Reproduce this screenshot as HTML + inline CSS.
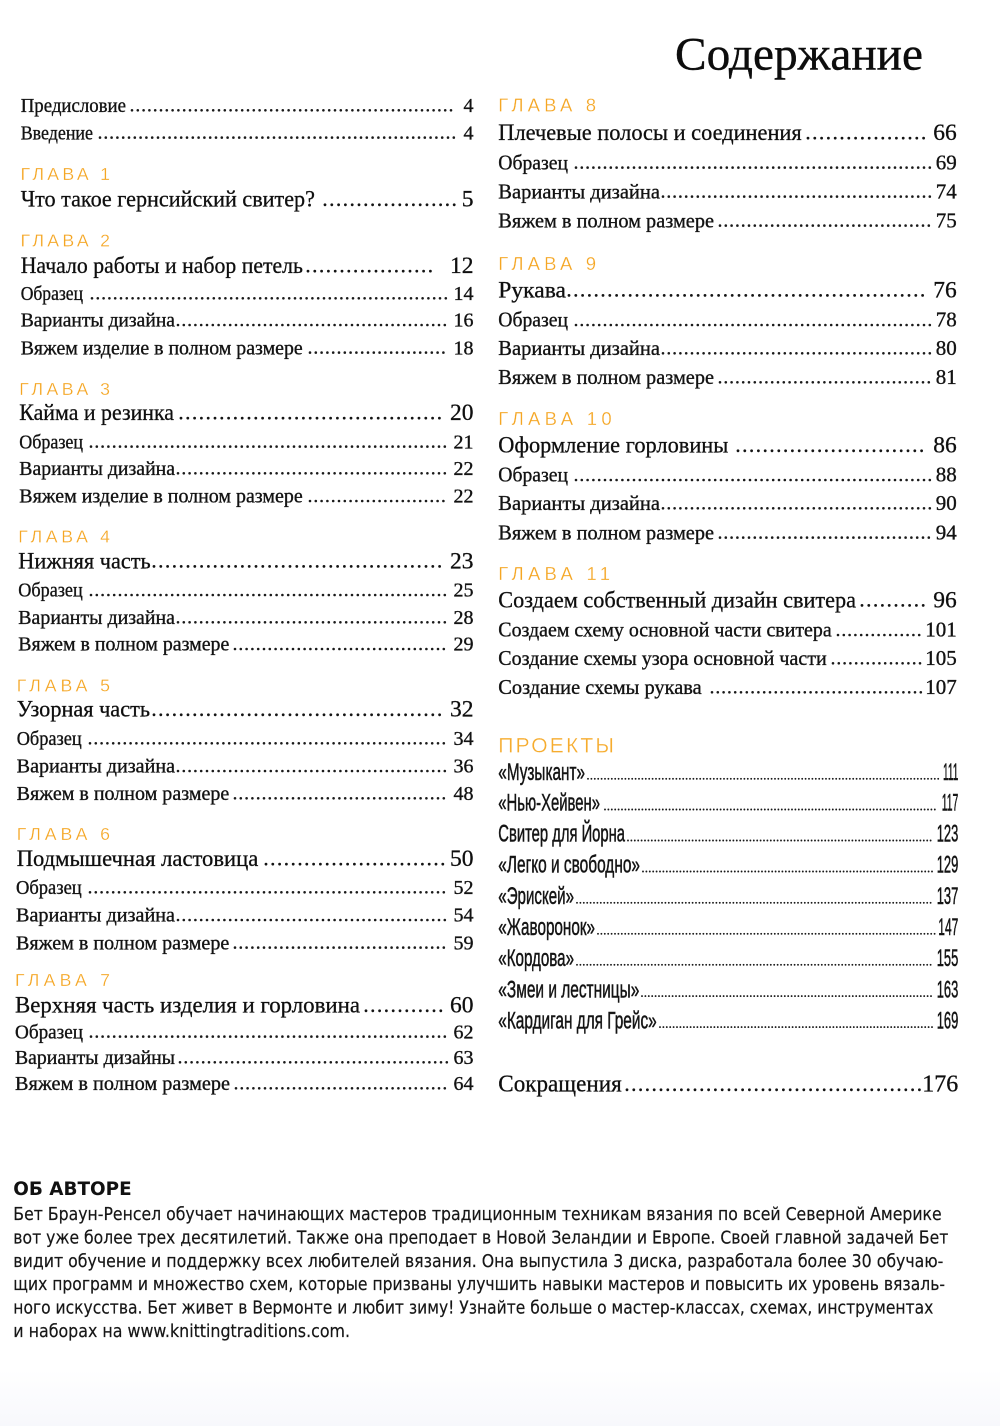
<!DOCTYPE html>
<html>
<head>
<meta charset="utf-8">
<style>
html,body{margin:0;padding:0;background:#fff;}
svg{display:block;}
.s{font-family:"Liberation Serif",serif;font-size:20px;fill:#131313;stroke:#131313;stroke-width:0.35;}
.sr{font-family:"Liberation Serif",serif;font-size:21px;fill:#131313;stroke:#131313;stroke-width:0.35;}
.b{font-family:"Liberation Serif",serif;font-size:23.5px;fill:#0f0f0f;stroke:#0f0f0f;stroke-width:0.3;}
.n{text-anchor:end;}
.g{font-family:"Liberation Sans",sans-serif;font-size:17.7px;fill:#f5a623;stroke:#fff;stroke-width:0.25;}
.gr{font-family:"Liberation Sans",sans-serif;font-size:18.5px;fill:#f5a623;stroke:#fff;stroke-width:0.25;}
.p{font-family:"Liberation Sans",sans-serif;font-size:24px;fill:#141414;stroke:#141414;stroke-width:0.5;}
.t{font-family:"DejaVu Sans","Liberation Sans",sans-serif;font-size:18px;fill:#161616;stroke:#161616;stroke-width:0.2;}
.h{font-family:"DejaVu Sans","Liberation Sans",sans-serif;font-size:18.5px;font-weight:bold;fill:#111;}
.ds{stroke:#1a1a1a;stroke-width:2.6;stroke-linecap:round;stroke-dasharray:0 5.8;}
.db{stroke:#141414;stroke-width:2.8;stroke-linecap:round;stroke-dasharray:0 6.8;}
.dp{stroke:#1a1a1a;stroke-width:1.9;stroke-linecap:round;stroke-dasharray:0 3.4;}
</style>
</head>
<body>
<svg width="1000" height="1426" viewBox="0 0 1000 1426" xmlns="http://www.w3.org/2000/svg">
<defs>
<linearGradient id="bg" x1="0" y1="0" x2="0" y2="1">
<stop offset="0" stop-color="#ffffff"/>
<stop offset="1" stop-color="#f7f8fc"/>
</linearGradient>
</defs>
<rect x="0" y="0" width="1000" height="1426" fill="#fff"/>
<rect x="0" y="1370" width="1000" height="56" fill="url(#bg)"/>

<!-- Title -->
<text x="675" y="69.3" textLength="248" lengthAdjust="spacingAndGlyphs" style="font-family:'Liberation Serif',serif;font-size:47px;fill:#0d0d0d;stroke:#0d0d0d;stroke-width:0.4;">Содержание</text>

<!-- LEFT COLUMN -->
<text class="s" x="20.7" y="112" textLength="105.3" lengthAdjust="spacingAndGlyphs">Предисловие</text>
<line class="ds" x1="132" y1="110.3" x2="456" y2="110.3"/>
<text class="s n" x="473.5" y="112">4</text>

<text class="s" x="20.7" y="139.3" textLength="72.3" lengthAdjust="spacingAndGlyphs">Введение</text>
<line class="ds" x1="100" y1="137.6" x2="456" y2="137.6"/>
<text class="s n" x="473.5" y="139.3">4</text>

<text class="g" x="20.5" y="180" textLength="89.5" lengthAdjust="spacing">ГЛАВА 1</text>
<text class="b" x="20.7" y="206.7" textLength="294.3" lengthAdjust="spacingAndGlyphs">Что такое гернсийский свитер?</text>
<line class="db" x1="325" y1="204.8" x2="455" y2="204.8"/>
<text class="b n" x="473.5" y="206.7">5</text>

<text class="g" x="20.5" y="246.7" textLength="89.5" lengthAdjust="spacing">ГЛАВА 2</text>
<text class="b" x="20.7" y="273" textLength="282.3" lengthAdjust="spacingAndGlyphs">Начало работы и набор петель</text>
<line class="db" x1="308" y1="271.1" x2="437" y2="271.1"/>
<text class="b n" x="473.5" y="273">12</text>
<text class="s" x="20.7" y="300" textLength="62.3" lengthAdjust="spacingAndGlyphs">Образец</text>
<line class="ds" x1="92" y1="298.3" x2="449" y2="298.3"/>
<text class="s n" x="473.5" y="300">14</text>
<text class="s" x="20.7" y="326.7" textLength="154.3" lengthAdjust="spacingAndGlyphs">Варианты дизайна</text>
<line class="ds" x1="178" y1="325" x2="449" y2="325"/>
<text class="s n" x="473.5" y="326.7">16</text>
<text class="s" x="20.7" y="354.3" textLength="282" lengthAdjust="spacingAndGlyphs">Вяжем изделие в полном размере</text>
<line class="ds" x1="310" y1="352.6" x2="449" y2="352.6"/>
<text class="s n" x="473.5" y="354.3">18</text>

<text class="g" x="19.3" y="395" textLength="90.7" lengthAdjust="spacing">ГЛАВА 3</text>
<text class="b" x="19.3" y="420" textLength="154.7" lengthAdjust="spacingAndGlyphs">Кайма и резинка</text>
<line class="db" x1="181" y1="418.1" x2="444" y2="418.1"/>
<text class="b n" x="473.5" y="420">20</text>
<text class="s" x="19.3" y="448.3" textLength="63.7" lengthAdjust="spacingAndGlyphs">Образец</text>
<line class="ds" x1="91" y1="446.6" x2="449" y2="446.6"/>
<text class="s n" x="473.5" y="448.3">21</text>
<text class="s" x="19.3" y="475" textLength="155.7" lengthAdjust="spacingAndGlyphs">Варианты дизайна</text>
<line class="ds" x1="178" y1="473.3" x2="449" y2="473.3"/>
<text class="s n" x="473.5" y="475">22</text>
<text class="s" x="19.3" y="502.7" textLength="283.4" lengthAdjust="spacingAndGlyphs">Вяжем изделие в полном размере</text>
<line class="ds" x1="310" y1="501" x2="449" y2="501"/>
<text class="s n" x="473.5" y="502.7">22</text>

<text class="g" x="18.3" y="542.7" textLength="91.7" lengthAdjust="spacing">ГЛАВА 4</text>
<text class="b" x="18.3" y="568.3" textLength="132.4" lengthAdjust="spacingAndGlyphs">Нижняя часть</text>
<line class="db" x1="154" y1="566.4" x2="444" y2="566.4"/>
<text class="b n" x="473.5" y="568.3">23</text>
<text class="s" x="18.3" y="596.7" textLength="64.4" lengthAdjust="spacingAndGlyphs">Образец</text>
<line class="ds" x1="91" y1="595" x2="449" y2="595"/>
<text class="s n" x="473.5" y="596.7">25</text>
<text class="s" x="18.3" y="624" textLength="156.7" lengthAdjust="spacingAndGlyphs">Варианты дизайна</text>
<line class="ds" x1="178" y1="622.3" x2="449" y2="622.3"/>
<text class="s n" x="473.5" y="624">28</text>
<text class="s" x="18.3" y="650.7" textLength="211" lengthAdjust="spacingAndGlyphs">Вяжем в полном размере</text>
<line class="ds" x1="235" y1="649" x2="449" y2="649"/>
<text class="s n" x="473.5" y="650.7">29</text>

<text class="g" x="16.7" y="691.7" textLength="93.3" lengthAdjust="spacing">ГЛАВА 5</text>
<text class="b" x="16.7" y="716.7" textLength="133.3" lengthAdjust="spacingAndGlyphs">Узорная часть</text>
<line class="db" x1="154" y1="714.8" x2="444" y2="714.8"/>
<text class="b n" x="473.5" y="716.7">32</text>
<text class="s" x="16.7" y="745" textLength="65" lengthAdjust="spacingAndGlyphs">Образец</text>
<line class="ds" x1="90" y1="743.3" x2="449" y2="743.3"/>
<text class="s n" x="473.5" y="745">34</text>
<text class="s" x="16.7" y="772.7" textLength="158.3" lengthAdjust="spacingAndGlyphs">Варианты дизайна</text>
<line class="ds" x1="178" y1="771" x2="449" y2="771"/>
<text class="s n" x="473.5" y="772.7">36</text>
<text class="s" x="16.7" y="800" textLength="212.6" lengthAdjust="spacingAndGlyphs">Вяжем в полном размере</text>
<line class="ds" x1="235" y1="798.3" x2="449" y2="798.3"/>
<text class="s n" x="473.5" y="800">48</text>

<text class="g" x="16.7" y="840" textLength="93.3" lengthAdjust="spacing">ГЛАВА 6</text>
<text class="b" x="16.7" y="866" textLength="241.6" lengthAdjust="spacingAndGlyphs">Подмышечная ластовица</text>
<line class="db" x1="266" y1="864.1" x2="444" y2="864.1"/>
<text class="b n" x="473.5" y="866">50</text>
<text class="s" x="16" y="894" textLength="65.7" lengthAdjust="spacingAndGlyphs">Образец</text>
<line class="ds" x1="90" y1="892.3" x2="449" y2="892.3"/>
<text class="s n" x="473.5" y="894">52</text>
<text class="s" x="16" y="921.7" textLength="159" lengthAdjust="spacingAndGlyphs">Варианты дизайна</text>
<line class="ds" x1="178" y1="920" x2="449" y2="920"/>
<text class="s n" x="473.5" y="921.7">54</text>
<text class="s" x="16" y="949.3" textLength="213.3" lengthAdjust="spacingAndGlyphs">Вяжем в полном размере</text>
<line class="ds" x1="235" y1="947.6" x2="449" y2="947.6"/>
<text class="s n" x="473.5" y="949.3">59</text>

<text class="g" x="15" y="986" textLength="95" lengthAdjust="spacing">ГЛАВА 7</text>
<text class="b" x="15" y="1012.7" textLength="345" lengthAdjust="spacingAndGlyphs">Верхняя часть изделия и горловина</text>
<line class="db" x1="366" y1="1010.8" x2="444" y2="1010.8"/>
<text class="b n" x="473.5" y="1012.7">60</text>
<text class="s" x="15" y="1038.3" textLength="68" lengthAdjust="spacingAndGlyphs">Образец</text>
<line class="ds" x1="91" y1="1036.6" x2="449" y2="1036.6"/>
<text class="s n" x="473.5" y="1038.3">62</text>
<text class="s" x="15" y="1064" textLength="160" lengthAdjust="spacingAndGlyphs">Варианты дизайны</text>
<line class="ds" x1="180" y1="1062.3" x2="449" y2="1062.3"/>
<text class="s n" x="473.5" y="1064">63</text>
<text class="s" x="15" y="1090" textLength="215" lengthAdjust="spacingAndGlyphs">Вяжем в полном размере</text>
<line class="ds" x1="236" y1="1088.3" x2="449" y2="1088.3"/>
<text class="s n" x="473.5" y="1090">64</text>

<!-- RIGHT COLUMN -->
<text class="gr" x="498.3" y="111.7" textLength="97.7" lengthAdjust="spacing">ГЛАВА 8</text>
<text class="b" x="498.3" y="140" textLength="303.4" lengthAdjust="spacingAndGlyphs">Плечевые полосы и соединения</text>
<line class="db" x1="808" y1="138.1" x2="926" y2="138.1"/>
<text class="b n" x="956.7" y="140">66</text>
<text class="sr" x="498.3" y="169.3" textLength="69.7" lengthAdjust="spacingAndGlyphs">Образец</text>
<line class="ds" x1="576" y1="167.6" x2="932" y2="167.6"/>
<text class="sr n" x="956.7" y="169.3">69</text>
<text class="sr" x="498.3" y="198.3" textLength="161.7" lengthAdjust="spacingAndGlyphs">Варианты дизайна</text>
<line class="ds" x1="663" y1="196.6" x2="932" y2="196.6"/>
<text class="sr n" x="956.7" y="198.3">74</text>
<text class="sr" x="498.3" y="227.3" textLength="215.7" lengthAdjust="spacingAndGlyphs">Вяжем в полном размере</text>
<line class="ds" x1="720" y1="225.6" x2="932" y2="225.6"/>
<text class="sr n" x="956.7" y="227.3">75</text>

<text class="gr" x="498.3" y="270" textLength="97.7" lengthAdjust="spacing">ГЛАВА 9</text>
<text class="b" x="498.3" y="297.3" textLength="67.7" lengthAdjust="spacingAndGlyphs">Рукава</text>
<line class="db" x1="569" y1="295.4" x2="927" y2="295.4"/>
<text class="b n" x="956.7" y="297.3">76</text>
<text class="sr" x="498.3" y="326.7" textLength="69.7" lengthAdjust="spacingAndGlyphs">Образец</text>
<line class="ds" x1="576" y1="325" x2="932" y2="325"/>
<text class="sr n" x="956.7" y="326.7">78</text>
<text class="sr" x="498.3" y="355" textLength="161.7" lengthAdjust="spacingAndGlyphs">Варианты дизайна</text>
<line class="ds" x1="663" y1="353.3" x2="932" y2="353.3"/>
<text class="sr n" x="956.7" y="355">80</text>
<text class="sr" x="498.3" y="384" textLength="215.7" lengthAdjust="spacingAndGlyphs">Вяжем в полном размере</text>
<line class="ds" x1="720" y1="382.3" x2="932" y2="382.3"/>
<text class="sr n" x="956.7" y="384">81</text>

<text class="gr" x="498.3" y="425" textLength="113.4" lengthAdjust="spacing">ГЛАВА 10</text>
<text class="b" x="498.3" y="452.7" textLength="230" lengthAdjust="spacingAndGlyphs">Оформление горловины</text>
<line class="db" x1="738" y1="450.8" x2="927" y2="450.8"/>
<text class="b n" x="956.7" y="452.7">86</text>
<text class="sr" x="498.3" y="481.7" textLength="69.7" lengthAdjust="spacingAndGlyphs">Образец</text>
<line class="ds" x1="576" y1="480" x2="932" y2="480"/>
<text class="sr n" x="956.7" y="481.7">88</text>
<text class="sr" x="498.3" y="510" textLength="161.7" lengthAdjust="spacingAndGlyphs">Варианты дизайна</text>
<line class="ds" x1="663" y1="508.3" x2="932" y2="508.3"/>
<text class="sr n" x="956.7" y="510">90</text>
<text class="sr" x="498.3" y="539.3" textLength="215.7" lengthAdjust="spacingAndGlyphs">Вяжем в полном размере</text>
<line class="ds" x1="720" y1="537.6" x2="932" y2="537.6"/>
<text class="sr n" x="956.7" y="539.3">94</text>

<text class="gr" x="498.3" y="580" textLength="111.7" lengthAdjust="spacing">ГЛАВА 11</text>
<text class="b" x="498.3" y="607.3" textLength="357.7" lengthAdjust="spacingAndGlyphs">Создаем собственный дизайн свитера</text>
<line class="db" x1="862" y1="605.4" x2="927" y2="605.4"/>
<text class="b n" x="956.7" y="607.3">96</text>
<text class="sr" x="498.3" y="636.7" textLength="333.4" lengthAdjust="spacingAndGlyphs">Создаем схему основной части свитера</text>
<line class="ds" x1="838" y1="635" x2="922" y2="635"/>
<text class="sr n" x="956.7" y="636.7">101</text>
<text class="sr" x="498.3" y="665" textLength="328.4" lengthAdjust="spacingAndGlyphs">Создание схемы узора основной части</text>
<line class="ds" x1="833" y1="663.3" x2="922" y2="663.3"/>
<text class="sr n" x="956.7" y="665">105</text>
<text class="sr" x="498.3" y="694" textLength="203.4" lengthAdjust="spacingAndGlyphs">Создание схемы рукава</text>
<line class="ds" x1="712" y1="692.3" x2="922" y2="692.3"/>
<text class="sr n" x="956.7" y="694">107</text>

<!-- PROJECTS -->
<text x="498.3" y="752.7" textLength="115.7" lengthAdjust="spacing" style="font-family:'Liberation Sans',sans-serif;font-size:21px;fill:#f6ac2e;stroke:#fff;stroke-width:0.3;">ПРОЕКТЫ</text>

<text class="p" x="498.3" y="780" textLength="86.7" lengthAdjust="spacingAndGlyphs">«Музыкант»</text>
<line class="dp" x1="588" y1="778.8" x2="940" y2="778.8"/>
<text class="p" x="943" y="780" textLength="15.3" lengthAdjust="spacingAndGlyphs">111</text>

<text class="p" x="498.3" y="810.7" textLength="101.7" lengthAdjust="spacingAndGlyphs">«Нью-Хейвен»</text>
<line class="dp" x1="605" y1="809.5" x2="938" y2="809.5"/>
<text class="p" x="941.7" y="810.7" textLength="16.6" lengthAdjust="spacingAndGlyphs">117</text>

<text class="p" x="498.3" y="841.7" textLength="126.7" lengthAdjust="spacingAndGlyphs">Свитер для Йорна</text>
<line class="dp" x1="628" y1="840.5" x2="934" y2="840.5"/>
<text class="p" x="936.7" y="841.7" textLength="21.6" lengthAdjust="spacingAndGlyphs">123</text>

<text class="p" x="498.3" y="872.7" textLength="141.7" lengthAdjust="spacingAndGlyphs">«Легко и свободно»</text>
<line class="dp" x1="643" y1="871.5" x2="934" y2="871.5"/>
<text class="p" x="936.7" y="872.7" textLength="21.6" lengthAdjust="spacingAndGlyphs">129</text>

<text class="p" x="498.3" y="904" textLength="75.7" lengthAdjust="spacingAndGlyphs">«Эрискей»</text>
<line class="dp" x1="577" y1="902.8" x2="934" y2="902.8"/>
<text class="p" x="936.7" y="904" textLength="21.6" lengthAdjust="spacingAndGlyphs">137</text>

<text class="p" x="498.3" y="935" textLength="96.7" lengthAdjust="spacingAndGlyphs">«Жаворонок»</text>
<line class="dp" x1="598" y1="933.8" x2="935" y2="933.8"/>
<text class="p" x="938.3" y="935" textLength="20" lengthAdjust="spacingAndGlyphs">147</text>

<text class="p" x="498.3" y="966" textLength="75.7" lengthAdjust="spacingAndGlyphs">«Кордова»</text>
<line class="dp" x1="577" y1="964.8" x2="934" y2="964.8"/>
<text class="p" x="936.7" y="966" textLength="21.6" lengthAdjust="spacingAndGlyphs">155</text>

<text class="p" x="498.3" y="997.3" textLength="141" lengthAdjust="spacingAndGlyphs">«Змеи и лестницы»</text>
<line class="dp" x1="642" y1="996.1" x2="934" y2="996.1"/>
<text class="p" x="936.7" y="997.3" textLength="21.6" lengthAdjust="spacingAndGlyphs">163</text>

<text class="p" x="498.3" y="1028.3" textLength="158.4" lengthAdjust="spacingAndGlyphs">«Кардиган для Грейс»</text>
<line class="dp" x1="660" y1="1027.1" x2="934" y2="1027.1"/>
<text class="p" x="936.7" y="1028.3" textLength="21.6" lengthAdjust="spacingAndGlyphs">169</text>

<text class="b" x="498.3" y="1091.7" textLength="123.4" lengthAdjust="spacingAndGlyphs" style="font-size:24px;">Сокращения</text>
<line class="db" x1="627" y1="1089.8" x2="920" y2="1089.8"/>
<text class="b n" x="958.3" y="1091.7" style="font-size:24px;">176</text>

<!-- ABOUT AUTHOR -->
<text class="h" x="13.3" y="1195" textLength="118.4" lengthAdjust="spacingAndGlyphs">ОБ АВТОРЕ</text>
<text class="t" x="13.3" y="1220" textLength="928.4" lengthAdjust="spacingAndGlyphs">Бет Браун-Ренсел обучает начинающих мастеров традиционным техникам вязания по всей Северной Америке</text>
<text class="t" x="13.3" y="1243.4" textLength="935" lengthAdjust="spacingAndGlyphs">вот уже более трех десятилетий. Также она преподает в Новой Зеландии и Европе. Своей главной задачей Бет</text>
<text class="t" x="13.3" y="1266.8" textLength="930" lengthAdjust="spacingAndGlyphs">видит обучение и поддержку всех любителей вязания. Она выпустила 3 диска, разработала более 30 обучаю-</text>
<text class="t" x="13.3" y="1290.2" textLength="931.7" lengthAdjust="spacingAndGlyphs">щих программ и множество схем, которые призваны улучшить навыки мастеров и повысить их уровень вязаль-</text>
<text class="t" x="13.3" y="1313.6" textLength="920" lengthAdjust="spacingAndGlyphs">ного искусства. Бет живет в Вермонте и любит зиму! Узнайте больше о мастер-классах, схемах, инструментах</text>
<text class="t" x="13.3" y="1337" textLength="336.7" lengthAdjust="spacingAndGlyphs">и наборах на www.knittingtraditions.com.</text>
</svg>
</body>
</html>
